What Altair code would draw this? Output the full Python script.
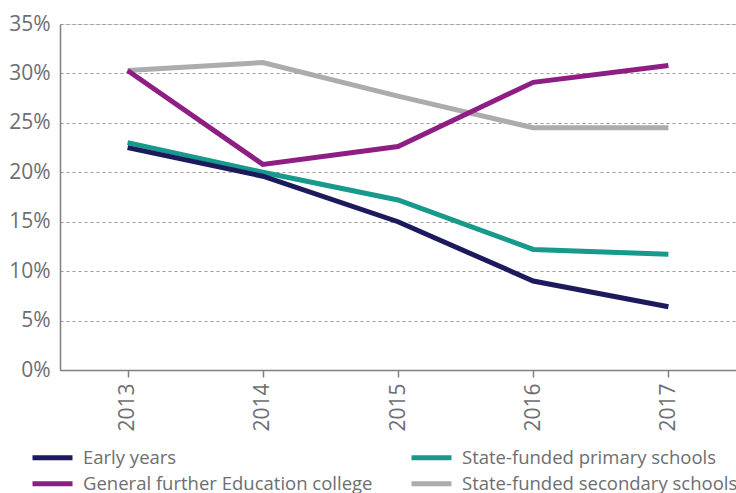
import altair as alt
import pandas as pd

years = ["2013", "2014", "2015", "2016", "2017"]
early_years = [22.5, 19.6, 15.0, 9.0, 6.4]
primary = [23.0, 20.0, 17.2, 12.2, 11.7]
fe_college = [30.3, 20.8, 22.6, 29.1, 30.8]
secondary = [30.3, 31.1, 27.7, 24.5, 24.5]

series_names = [
    "Early years",
    "State-funded primary schools",
    "General further Education college",
    "State-funded secondary schools",
]
series_values = [early_years, primary, fe_college, secondary]
colors = ["#1c1a5c", "#17998c", "#8e1e84", "#acacaf"]
draw_order = [1, 0, 3, 2]  # primary, early, secondary, FE (purple on top)

rows = []
for i in draw_order:
    for y, v in zip(years, series_values[i]):
        rows.append({"year": y, "series": series_names[i], "value": v / 100})
df = pd.DataFrame(rows)

FONT = "Open Sans"
TXT = "#6d6e71"

x_enc = alt.X("year:N", sort=years, title=None,
              scale=alt.Scale(paddingInner=0, paddingOuter=0),
              axis=alt.Axis(labelAngle=-90, labelFontSize=21, labelColor=TXT,
                            labelFont=FONT, domainColor="#808080", domainWidth=1.5,
                            tickColor="#808080", tickSize=7, tickWidth=1.5,
                            bandPosition=0, labelPadding=6, grid=False))
y_enc = alt.Y("value:Q", title=None,
              scale=alt.Scale(domain=[0, 0.35], nice=False),
              axis=alt.Axis(format=".0%", values=[0, 0.05, 0.1, 0.15, 0.2, 0.25, 0.3, 0.35],
                            labelFontSize=21, labelColor=TXT, labelFont=FONT,
                            domainColor="#808080", domainWidth=1.5, ticks=False,
                            labelPadding=10, grid=True, gridColor="#9a9a9a",
                            gridDash=[3, 3], gridWidth=1))

base = alt.Chart(df)

lines = base.mark_line(strokeWidth=5, strokeCap="butt").encode(
    x=x_enc, y=y_enc,
    color=alt.Color("series:N",
                    scale=alt.Scale(domain=series_names, range=colors),
                    legend=None),
)


def legend_layer(idx, legend_y, col_pad):
    names = [series_names[i] for i in idx]
    cols = [colors[i] for i in idx]
    return base.transform_filter("false").mark_line(strokeWidth=5, strokeCap="butt").encode(
        x=alt.X("year:N", sort=years), y=alt.Y("value:Q"),
        color=alt.Color("series:N", sort=names,
                        scale=alt.Scale(domain=names, range=cols),
                        legend=alt.Legend(title=None, orient="none", legendX=-30,
                                          legendY=legend_y, columns=2,
                                          direction="horizontal",
                                          symbolType="stroke", symbolSize=1600,
                                          symbolStrokeWidth=5, labelFontSize=18.5,
                                          labelColor=TXT, labelFont=FONT, labelOffset=8,
                                          columnPadding=col_pad, labelLimit=400)),
    )


leg_a = legend_layer([0, 1], 411, 224)
leg_b = legend_layer([2, 3], 437, 28)

chart = alt.layer(lines, leg_a, leg_b).resolve_scale(color="independent").properties(
    width=676, height=346,
    autosize=alt.AutoSizeParams(type="none"),
    padding={"left": 60, "top": 24, "right": 0, "bottom": 123},
).configure_view(stroke=None).configure(background="white")

chart.save("out.html", embed_options={"renderer": "svg", "actions": False})
